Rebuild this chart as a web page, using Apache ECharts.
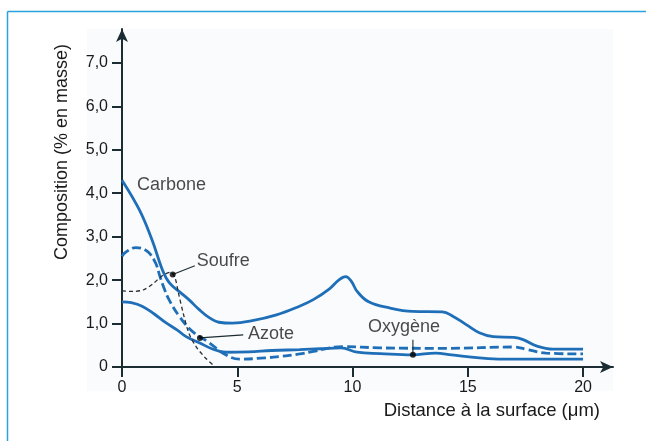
<!DOCTYPE html>
<html><head><meta charset="utf-8">
<script src="https://cdn.jsdelivr.net/npm/echarts@6/dist/echarts.min.js"></script>
<style>html,body{margin:0;padding:0;background:#fff}#c{width:646px;height:441px}</style>
</head><body><div id="c"></div>
<script>
// ---- data ----
const xTicks = [0, 5, 10, 15, 20];
const yTicks = [0, 1, 2, 3, 4, 5, 6, 7];

const carboneX = [0, 0.75, 1.3, 1.75, 2.05, 2.5, 2.9, 3.35, 3.8, 4.2, 4.8, 5.6, 6.7, 7.7, 8.3, 9.0, 9.4, 9.7, 9.95, 10.2, 10.7, 11.6, 12.6, 13.9, 14.35, 14.95, 15.5, 16.1, 17.0, 17.4, 18.0, 18.7, 20];
const carboneY = [4.3, 3.62, 2.93, 2.24, 1.94, 1.73, 1.55, 1.32, 1.13, 1.03, 1.01, 1.06, 1.2, 1.4, 1.55, 1.8, 2.0, 2.08, 1.97, 1.74, 1.5, 1.36, 1.28, 1.27, 1.17, 0.97, 0.79, 0.7, 0.68, 0.63, 0.48, 0.41, 0.41];

const azoteX = [0, 0.13, 0.6, 1.1, 1.45, 1.65, 1.8, 2.04, 2.48, 3.05, 3.78, 4.5, 5.1, 6.2, 6.8, 7.7, 8.3, 9.6, 11.2, 14.1, 17.0, 17.6, 18.4, 20];
const azoteY = [2.55, 2.63, 2.75, 2.66, 2.4, 2.08, 1.85, 1.55, 1.17, 0.82, 0.56, 0.28, 0.18, 0.21, 0.24, 0.3, 0.36, 0.47, 0.44, 0.43, 0.46, 0.40, 0.32, 0.30];

const oxygeneX = [0, 0.4, 0.87, 1.4, 1.9, 2.4, 2.78, 3.35, 3.9, 4.5, 5.5, 6.5, 7.7, 8.6, 9.5, 10.2, 11.2, 12.6, 13.6, 14.3, 15.5, 16.5, 20];
const oxygeneY = [1.5, 1.48, 1.4, 1.22, 1.02, 0.85, 0.7, 0.56, 0.42, 0.34, 0.35, 0.38, 0.4, 0.42, 0.44, 0.34, 0.31, 0.28, 0.32, 0.28, 0.21, 0.18, 0.18];

const soufreX = [0, 0.5, 0.95, 1.35, 1.75, 2.1, 2.3, 2.45, 2.65, 2.9, 3.2, 3.6, 4.05];
const soufreY = [1.75, 1.74, 1.78, 1.92, 2.1, 2.18, 2.05, 1.7, 1.25, 0.78, 0.48, 0.22, 0.0];

// annotations: name, text anchor (x,y), dot (x,y) or null, leader end (x,y)
const annNames = ['Carbone', 'Soufre', 'Azote', 'Oxygène'];
const annTextX = [0.65, 3.24, 5.47, 10.67];
const annTextY = [4.2, 2.44, 0.77, 0.92];
const annDotX = [null, 2.2, 3.38, 12.62];
const annDotY = [null, 2.13, 0.67, 0.28];
const annLeadX = [null, 3.16, 5.26, 12.62];
const annLeadY = [null, 2.33, 0.74, 0.63];

// ---- chart ----
const zip = (xs, ys) => xs.map((x, i) => [x, ys[i]]);
const BLUE = '#1f6fb8';
const AX = '#1b2c33';
const TXT = '#1a1a1a';
const FONT = '"Liberation Sans", Arial, sans-serif';

const series = [
  { type: 'line', data: zip(carboneX, carboneY), smooth: 0.4, showSymbol: false, lineStyle: { color: BLUE, width: 2.8 }, z: 3 },
  { type: 'line', data: zip(oxygeneX, oxygeneY), smooth: 0.4, showSymbol: false, lineStyle: { color: BLUE, width: 2.8 }, z: 3 },
  { type: 'line', data: zip(azoteX, azoteY), smooth: 0.4, showSymbol: false, lineStyle: { color: BLUE, width: 2.8, type: [9, 4] }, z: 3 },
  { type: 'line', data: zip(soufreX, soufreY), smooth: 0.3, showSymbol: false, lineStyle: { color: '#2a2f33', width: 1.3, type: [4, 3] }, z: 4 }
];
annNames.forEach((n, i) => {
  if (annDotX[i] !== null) {
    series.push({ type: 'line', data: [[annDotX[i], annDotY[i]], [annLeadX[i], annLeadY[i]]], showSymbol: false, lineStyle: { color: AX, width: 1.1 }, z: 5 });
    series.push({ type: 'scatter', data: [[annDotX[i], annDotY[i]]], symbolSize: 6, itemStyle: { color: '#000' }, z: 6 });
  }
  series.push({ type: 'scatter', data: [[annTextX[i], annTextY[i]]], symbolSize: 0, z: 6,
    label: { show: true, position: 'right', distance: 0, formatter: n, fontSize: 18, color: TXT, fontFamily: FONT } });
});

const chart = echarts.init(document.getElementById('c'), null, { renderer: 'canvas' });
chart.setOption({
  animation: false,
  backgroundColor: '#fff',
  grid: { left: 122, top: 29, right: 33, bottom: 74, containLabel: false },
  xAxis: {
    type: 'value', min: 0, max: 21.3,
    axisLine: { show: true, symbol: ['none', 'arrow'], symbolSize: [9, 13], lineStyle: { color: AX, width: 2 } },
    axisTick: { show: true, customValues: xTicks, length: 10, lineStyle: { color: AX, width: 2 } },
    axisLabel: { customValues: xTicks, fontSize: 16, color: TXT, margin: 13, fontFamily: FONT },
    splitLine: { show: false }
  },
  yAxis: {
    type: 'value', min: 0, max: 7.78,
    axisLine: { show: true, symbol: ['none', 'arrow'], symbolSize: [9, 13], lineStyle: { color: AX, width: 2 } },
    axisTick: { show: true, customValues: yTicks, length: 10, lineStyle: { color: AX, width: 2 } },
    axisLabel: { customValues: yTicks, fontSize: 16, color: TXT, margin: 14, fontFamily: FONT,
      formatter: v => v === 0 ? '0' : v.toFixed(1).replace('.', ',') },
    splitLine: { show: false }
  },
  graphic: [
    { type: 'rect', shape: { x: 87, y: 29, width: 526, height: 362 }, style: { fill: '#fafbfd' }, z: -10, silent: true },
    { type: 'line', shape: { x1: 7.5, y1: 11.5, x2: 646, y2: 11.5 }, style: { stroke: '#2aa2dc', lineWidth: 1.5 } },
    { type: 'line', shape: { x1: 7.5, y1: 11.5, x2: 7.5, y2: 441 }, style: { stroke: '#2aa2dc', lineWidth: 1.5 } },
    { type: 'text', x: 62, y: 152, rotation: Math.PI / 2,
      style: { text: 'Composition (% en masse)', fontSize: 18, fill: TXT, fontFamily: FONT, align: 'center', verticalAlign: 'middle' } },
    { type: 'text', x: 600, y: 411,
      style: { text: 'Distance à la surface (μm)', fontSize: 18.5, fill: TXT, fontFamily: FONT, align: 'right', verticalAlign: 'middle' } }
  ],
  series: series
});
</script></body></html>
